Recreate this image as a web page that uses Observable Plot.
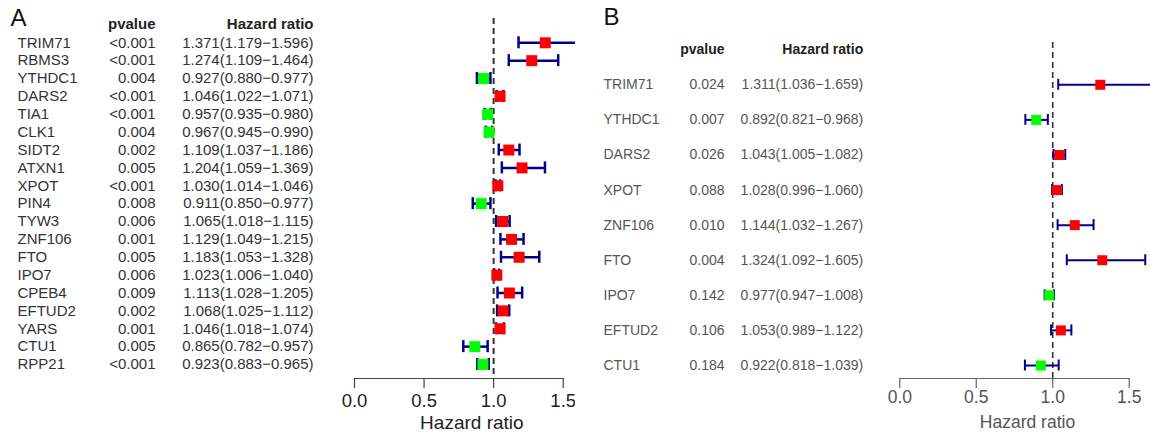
<!DOCTYPE html>
<html>
<head>
<meta charset="utf-8">
<script src="https://cdn.jsdelivr.net/npm/d3@7"></script>
<script src="https://cdn.jsdelivr.net/npm/@observablehq/plot@0.6"></script>
<style>
  body { margin: 0; background: white; }
  #wrap { position: relative; width: 1150px; height: 435px; overflow: hidden; background: white; }
  #pa { position: absolute; left: 0; top: 0; width: 575px; }
  #pb { position: absolute; left: 575px; top: 0; width: 575px; }
</style>
</head>
<body>
<div id="wrap"><div id="pa"></div><div id="pb"></div></div>
<script>
// ---- Panel A data ----
const genesA = ["TRIM71","RBMS3","YTHDC1","DARS2","TIA1","CLK1","SIDT2","ATXN1","XPOT","PIN4","TYW3","ZNF106","FTO","IPO7","CPEB4","EFTUD2","YARS","CTU1","RPP21"];
const pvalA  = ["<0.001","<0.001","0.004","<0.001","<0.001","0.004","0.002","0.005","<0.001","0.008","0.006","0.001","0.005","0.006","0.009","0.002","0.001","0.005","<0.001"];
const hrA    = [1.371,1.274,0.927,1.046,0.957,0.967,1.109,1.204,1.030,0.911,1.065,1.129,1.183,1.023,1.113,1.068,1.046,0.865,0.923];
const lowA   = [1.179,1.109,0.880,1.022,0.935,0.945,1.037,1.059,1.014,0.850,1.018,1.049,1.053,1.006,1.028,1.025,1.018,0.782,0.883];
const highA  = [1.596,1.464,0.977,1.071,0.980,0.990,1.186,1.369,1.046,0.977,1.115,1.215,1.328,1.040,1.205,1.112,1.074,0.957,0.965];

// ---- Panel B data ----
const genesB = ["TRIM71","YTHDC1","DARS2","XPOT","ZNF106","FTO","IPO7","EFTUD2","CTU1"];
const pvalB  = ["0.024","0.007","0.026","0.088","0.010","0.004","0.142","0.106","0.184"];
const hrB    = [1.311,0.892,1.043,1.028,1.144,1.324,0.977,1.053,0.922];
const lowB   = [1.036,0.821,1.005,0.996,1.032,1.092,0.947,0.989,0.818];
const highB  = [1.659,0.968,1.082,1.060,1.267,1.605,1.008,1.122,1.039];

const xTicks = [0, 0.5, 1, 1.5];
const headers = ["pvalue", "Hazard ratio"];
const axisTitle = "Hazard ratio";
const panelLabels = ["A", "B"];

const FONT = "'Liberation Sans', Arial, Helvetica, sans-serif";
const f3 = d3.format(".3f");

function rows(genes, pv, hr, lo, hi) {
  return genes.map((g, i) => ({
    gene: g, p: pv[i], hr: hr[i], lo: lo[i], hi: hi[i],
    label: `${f3(hr[i])}(${f3(lo[i])}\u2212${f3(hi[i])})`,
    col: hr[i] > 1 ? "#ff0000" : "#00ff00"
  }));
}

function panel(o) {
  const data = rows(o.genes, o.pv, o.hr, o.lo, o.hi);
  const half = (o.yRange[1] - o.yRange[0]) / (o.genes.length - 1) / 2;
  const capInset = half - o.cap / 2;
  return Plot.plot({
    width: 575, height: 435,
    marginLeft: o.ml, marginRight: o.mr, marginTop: o.mt, marginBottom: 57,
    style: { fontFamily: FONT, background: "white" },
    x: { domain: [0, 1.5], axis: null },
    y: { type: "band", domain: o.genes, range: [o.yRange[0] - half, o.yRange[1] + half], padding: 0, round: false, axis: null },
    marks: [
      Plot.ruleX([1], { stroke: "#333", strokeWidth: o.dashW, strokeDasharray: "6,4" }),
      Plot.frame({ anchor: "bottom", stroke: o.axisStroke, strokeWidth: 1.2 }),
      Plot.axisX({ ticks: xTicks, tickSize: 10, tickPadding: o.tickPad, tickFormat: d3.format(".1f"),
        fontSize: o.tickFont, stroke: o.axisStroke, strokeWidth: 1.2, fill: o.axisText, label: null }),
      Plot.text([axisTitle], { frameAnchor: "bottom", lineAnchor: "middle", dx: 13, dy: 44, text: d => d, fontSize: o.titleFont, fill: o.axisText }),
      // CI lines and caps
      Plot.ruleY(data, { y: "gene", x1: "lo", x2: "hi", stroke: "#00008b", strokeWidth: o.ciW }),
      Plot.tickX(data, { x: "lo", y: "gene", stroke: "#00008b", strokeWidth: o.ciW, insetTop: capInset, insetBottom: capInset }),
      Plot.tickX(data, { x: "hi", y: "gene", stroke: "#00008b", strokeWidth: o.ciW, insetTop: capInset, insetBottom: capInset }),
      Plot.dot(data, { x: "hr", y: "gene", symbol: "square", r: o.sq / Math.sqrt(Math.PI), fill: "col", stroke: null }),
      // text columns
      Plot.text(data, { y: "gene", frameAnchor: "left", lineAnchor: "middle", dx: o.dxGene, text: "gene", textAnchor: "start", fontSize: o.font, fill: o.textFill }),
      Plot.text(data, { y: "gene", frameAnchor: "left", lineAnchor: "middle", dx: o.dxP, text: "p", textAnchor: "end", fontSize: o.font, fill: o.textFill }),
      Plot.text(data, { y: "gene", frameAnchor: "left", lineAnchor: "middle", dx: o.dxHR, text: "label", textAnchor: "end", fontSize: o.font, fill: o.textFill }),
      Plot.text([headers[0]], { frameAnchor: "top-left", lineAnchor: "middle", dx: o.dxP, dy: o.headDy, text: d => d, textAnchor: "end", fontSize: o.font, fontWeight: "bold", fill: "#222" }),
      Plot.text([headers[1]], { frameAnchor: "top-left", lineAnchor: "middle", dx: o.dxHR, dy: o.headDy, text: d => d, textAnchor: "end", fontSize: o.font, fontWeight: "bold", fill: "#222" }),
      Plot.text([o.label], { frameAnchor: "top-left", lineAnchor: "middle", dx: o.dxLabel, dy: o.labelDy, text: d => d, textAnchor: "start", fontSize: 24, fill: "#111" })
    ]
  });
}

document.getElementById("pa").appendChild(panel({
  genes: genesA, pv: pvalA, hr: hrA, lo: lowA, hi: highA,
  ml: 354, mr: 12.3, mt: 18, yRange: [42.3, 364],
  dashW: 2, ciW: 2.5, cap: 12, sq: 11,
  tickPad: 5, tickFont: 18.5, titleFont: 19, axisStroke: "#444", axisText: "#222",
  font: 15, textFill: "#333",
  dxGene: -337, dxP: -199, dxHR: -41, headDy: 6,
  label: panelLabels[0], dxLabel: -344, labelDy: 0
}));

document.getElementById("pb").appendChild(panel({
  genes: genesB, pv: pvalB, hr: hrB, lo: lowB, hi: highB,
  ml: 324.3, mr: 21.3, mt: 42, yRange: [84.3, 365],
  dashW: 1.6, ciW: 2, cap: 11, sq: 10,
  tickPad: 2, tickFont: 17.5, titleFont: 17.5, axisStroke: "#666", axisText: "#555",
  font: 14, textFill: "#555",
  dxGene: -296.3, dxP: -175.3, dxHR: -36.6, headDy: 7,
  label: panelLabels[1], dxLabel: -296.3, labelDy: -25
}));
</script>
</body>
</html>
